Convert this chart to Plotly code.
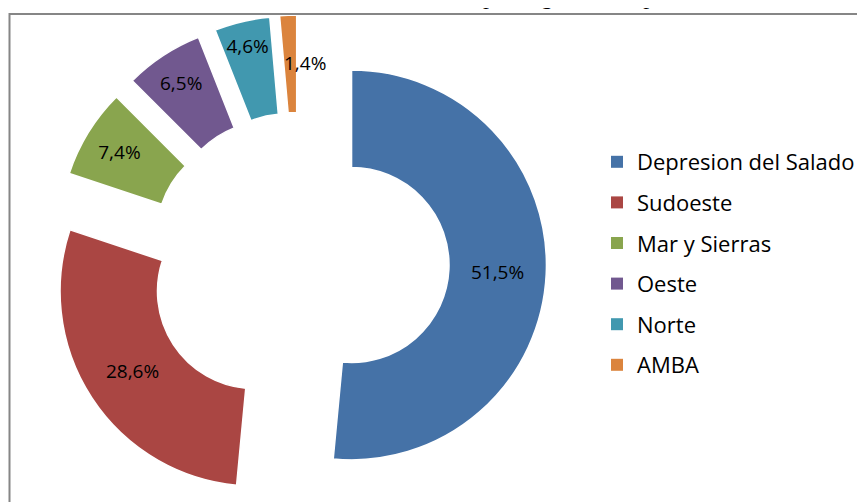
import plotly.graph_objects as go

# ---- data ----
regions = ["Depresion del Salado", "Sudoeste", "Mar y Sierras", "Oeste", "Norte", "AMBA"]
shares = [51.5, 28.6, 7.4, 6.5, 4.6, 1.4]
colors = ["#4572A7", "#AA4643", "#89A54E", "#71588F", "#4198AF", "#DB843D"]
title_text = "Distribución de ovinos por región en la provincia de Buenos Aires"

W, H = 865, 502
label_text = [f"{v:.1f}".replace(".", ",") + "%" for v in shares]
# the smallest slice gets its label placed beside it
inside_text = label_text[:-1] + [""]

fig = go.Figure()

fig.add_trace(go.Pie(
    labels=regions,
    values=shares,
    text=inside_text,
    textinfo="text",
    textposition="inside",
    insidetextorientation="horizontal",
    textfont=dict(family="Open Sans", size=19, color="black"),
    hole=0.5,
    pull=[0.27] * len(shares),
    sort=False,
    direction="clockwise",
    rotation=0,
    marker=dict(colors=colors, line=dict(color="white", width=1.5)),
    domain=dict(x=[31 / W, 551 / W], y=[0, 1 - 7 / H]),
    showlegend=False,
    hoverinfo="label+percent",
))

# legend entries
for name, c in zip(regions, colors):
    fig.add_trace(go.Scatter(
        x=[None], y=[None], mode="markers",
        marker=dict(symbol="square", size=12, color=c),
        name=name, legendgroup=name, showlegend=True,
    ))

fig.add_shape(type="rect", xref="paper", yref="paper",
              x0=1.5 / W, x1=1.02, y0=-0.02, y1=1 - 6 / H,
              line=dict(color="#868686", width=2), fillcolor="rgba(0,0,0,0)")

fig.add_annotation(text=label_text[-1], xref="paper", yref="paper",
                   x=297 / W, y=1 - 55 / H, xanchor="center", yanchor="middle",
                   showarrow=False,
                   font=dict(family="Open Sans", size=19, color="black"))

fig.add_annotation(text="<i>" + title_text + "</i>", xref="paper", yref="paper",
                   x=249 / W, y=1 - 3 / H, xanchor="left", yanchor="bottom",
                   showarrow=False,
                   font=dict(family="Liberation Serif", size=24, color="black"))

fig.update_layout(
    width=W, height=H,
    margin=dict(l=0, r=0, t=0, b=0),
    paper_bgcolor="white", plot_bgcolor="white",
    xaxis=dict(visible=False), yaxis=dict(visible=False),
    uniformtext=dict(minsize=19, mode="show"),
    legend=dict(x=589 / W, y=1 - 133 / H, xanchor="left", yanchor="top",
                font=dict(family="Open Sans", size=22, color="black"),
                tracegroupgap=9, bgcolor="rgba(0,0,0,0)"),
)

fig.write_html("out.html")
